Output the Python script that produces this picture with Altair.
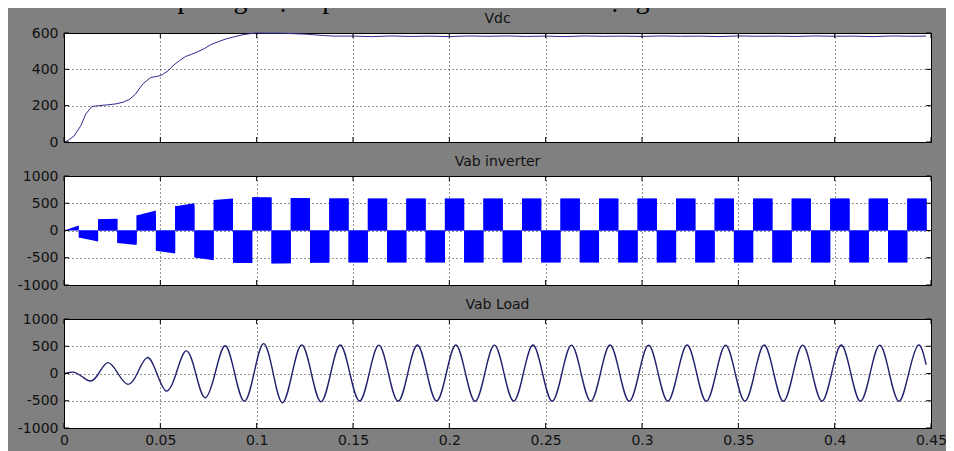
import altair as alt
import pandas as pd

# ---------------- data ----------------
caption = "ến hình 6 : mô phỏng điện áp đầu ra của biến tần có dạng hình sin"
titles = ["Vdc", "Vab inverter", "Vab Load"]

x_ticks = [0, 0.05, 0.1, 0.15, 0.2, 0.25, 0.3, 0.35, 0.4, 0.45]
vdc_ticks = [0, 200, 400, 600]
ac_ticks = [-1000, -500, 0, 500, 1000]

vdc_t = [0, 0.002, 0.0052, 0.0087, 0.0113, 0.0144, 0.018, 0.022, 0.027, 0.031,
         0.034, 0.037, 0.041, 0.045, 0.0485, 0.051, 0.054, 0.057, 0.06, 0.063,
         0.066, 0.069, 0.073, 0.076, 0.08, 0.084, 0.088, 0.093, 0.097, 0.1,
         0.105, 0.11, 0.115, 0.12, 0.125, 0.13, 0.135, 0.14, 0.15, 0.16,
         0.17, 0.18, 0.19, 0.2, 0.21, 0.22, 0.23, 0.24, 0.25, 0.26,
         0.27, 0.28, 0.29, 0.3, 0.31, 0.32, 0.33, 0.34, 0.35, 0.36,
         0.37, 0.38, 0.39, 0.4, 0.41, 0.42, 0.43, 0.44, 0.4475]
vdc_v = [0, 8, 33, 89, 154, 195, 200, 204, 210, 220,
         235, 262, 321, 355, 362, 370, 392, 424, 448, 470,
         482, 495, 515, 535, 552, 567, 578, 591, 597, 600,
         599, 599, 598, 596, 594, 590, 586, 583, 583, 580,
         584, 581, 583, 580, 584, 582, 584, 581, 583, 580,
         584, 582, 583, 581, 584, 582, 583, 580, 584, 582,
         583, 581, 584, 582, 583, 580, 584, 582, 583]

inv_edges = [0, 0.0077, 0.0177, 0.0277, 0.0377, 0.0477, 0.0577, 0.0677, 0.0777, 0.0877,
             0.0977, 0.1077, 0.1177, 0.1277, 0.1377, 0.1477, 0.1577, 0.1677, 0.1777, 0.1877,
             0.1977, 0.2077, 0.2177, 0.2277, 0.2377, 0.2477, 0.2577, 0.2677, 0.2777, 0.2877,
             0.2977, 0.3077, 0.3177, 0.3277, 0.3377, 0.3477, 0.3577, 0.3677, 0.3777, 0.3877,
             0.3977, 0.4077, 0.4177, 0.4277, 0.4377, 0.4477]
inv_start = [0, -130, 205, -230, 275, -370, 445, -495, 560, -590,
             610, -605, 598, -590, 588, -585, 585, -585, 585, -585,
             585, -585, 585, -585, 585, -585, 585, -585, 585, -585,
             585, -585, 585, -585, 585, -585, 585, -585, 585, -585,
             585, -585, 585, -585, 585]
inv_end = [90, -200, 215, -265, 365, -420, 500, -545, 585, -595,
           605, -600, 592, -588, 586, -585, 585, -585, 585, -585,
           585, -585, 585, -585, 585, -585, 585, -585, 585, -585,
           585, -585, 585, -585, 585, -585, 585, -585, 585, -585,
           585, -585, 585, -585, 585]

load_t = [0, 0.003, 0.0055, 0.0095, 0.0138, 0.018, 0.0228, 0.028, 0.0332, 0.038,
          0.0432, 0.0482, 0.0532, 0.0582, 0.0634, 0.0684, 0.0732, 0.0784, 0.0836, 0.0886,
          0.0936, 0.0986, 0.1036, 0.1086, 0.1134, 0.1184, 0.1234, 0.1284, 0.1334, 0.1384,
          0.1434, 0.1484, 0.1534, 0.1584, 0.1634, 0.1684, 0.1734, 0.1784, 0.1834, 0.1884,
          0.1934, 0.1984, 0.2034, 0.2084, 0.2134, 0.2184, 0.2234, 0.2284, 0.2334, 0.2384,
          0.2434, 0.2484, 0.2534, 0.2584, 0.2634, 0.2684, 0.2734, 0.2784, 0.2834, 0.2884,
          0.2934, 0.2984, 0.3034, 0.3084, 0.3134, 0.3184, 0.3234, 0.3284, 0.3334, 0.3384,
          0.3434, 0.3484, 0.3534, 0.3584, 0.3634, 0.3684, 0.3734, 0.3784, 0.3834, 0.3884,
          0.3934, 0.3984, 0.4034, 0.4084, 0.4134, 0.4184, 0.4234, 0.4284, 0.4334, 0.4384,
          0.4434, 0.4475]
load_v = [0, 20, 20, -60, -138, 0, 200, 0, -200, 0,
          292, 0, -323, 0, 415, 0, -446, 0, 508, 0,
          -508, 0, 548, 0, -538, 0, 526, 0, -520, 0,
          524, 0, -505, 0, 520, 0, -510, 0, 522, 0,
          -505, 0, 522, 0, -510, 0, 520, 0, -508, 0,
          522, 0, -510, 0, 520, 0, -508, 0, 522, 0,
          -510, 0, 520, 0, -508, 0, 522, 0, -510, 0,
          520, 0, -508, 0, 522, 0, -510, 0, 520, 0,
          -508, 0, 522, 0, -510, 0, 520, 0, -508, 0,
          522, 160]

# ---------------- tables ----------------
vdc_df = pd.DataFrame({"t": vdc_t, "v": vdc_v})
load_df = pd.DataFrame({"t": load_t, "v": load_v})

# one polygon per inverter block (sloped tops), drawn as an area per block
poly_rows = []
for k in range(len(inv_start)):
    poly_rows.append({"t": inv_edges[k], "v": inv_start[k], "z": 0, "blk": k})
    poly_rows.append({"t": inv_edges[k + 1], "v": inv_end[k], "z": 0, "blk": k})
inv_poly = pd.DataFrame(poly_rows)

# the same blocks as rectangles up to the smaller end value
blk_df = pd.DataFrame({
    "t": inv_edges[:-1],
    "t2": inv_edges[1:],
    "v": [a if abs(a) < abs(b) else b for a, b in zip(inv_start, inv_end)],
    "z": [0] * len(inv_start),
})

# ---------------- chart ----------------
W, H = 867, 109
XS = alt.Scale(domain=[0, 0.45], nice=False, zero=False)
LBL = "'' + datum.value"


def x_enc(show):
    return alt.X("t:Q", scale=XS,
                 axis=alt.Axis(values=x_ticks, labels=show, labelExpr=LBL, title=None,
                               grid=True, ticks=False, domain=False, labelFlush=False,
                               labelOverlap=False, labelPadding=5))


def y_scale(dom):
    return alt.Scale(domain=dom, nice=False, zero=False)


def y_enc(ticks, dom):
    return alt.Y("v:Q", scale=y_scale(dom),
                 axis=alt.Axis(values=ticks, labelExpr=LBL, title=None, grid=True,
                               ticks=False, domain=False, labelFlush=False,
                               labelOverlap=False, labelPadding=6))


def tick_layers(yticks, dom, show):
    xt = pd.DataFrame({"t": x_ticks})
    yt = pd.DataFrame({"v": yticks})
    xs = x_enc(show)
    ys = y_enc(yticks, dom)
    top = alt.Chart(xt).mark_rule(color="black").encode(x=xs, y=alt.value(0), y2=alt.value(5))
    bot = alt.Chart(xt).mark_rule(color="black").encode(x=xs, y=alt.value(H), y2=alt.value(H - 5))
    left = alt.Chart(yt).mark_rule(color="black").encode(y=ys, x=alt.value(0), x2=alt.value(5))
    right = alt.Chart(yt).mark_rule(color="black").encode(y=ys, x=alt.value(W - 5), x2=alt.value(W))
    return [top, bot, left, right]


def ptitle(text):
    return alt.TitleParams(text=text, offset=-6, dy=5, baseline="alphabetic", anchor="middle",
                           font="DejaVu Sans", fontSize=14, fontWeight="normal", color="#111111")


AC = [-1000, 1000]

p1_main = alt.Chart(vdc_df).mark_line(color="#2b2b8f", strokeWidth=1).encode(
    x=x_enc(False), y=y_enc(vdc_ticks, [0, 600]))
p1 = alt.layer(p1_main, *tick_layers(vdc_ticks, [0, 600], False)).properties(
    width=W, height=H, title=ptitle(titles[0]))

p2_rect = alt.Chart(blk_df).mark_rect(color="#0000ff").encode(
    x=x_enc(False), x2="t2:Q", y=y_enc(ac_ticks, AC), y2="z:Q")
p2_area = alt.Chart(inv_poly).mark_area(color="#0000ff").encode(
    x=x_enc(False), y=y_enc(ac_ticks, AC), y2="z:Q", detail="blk:N")
p2 = alt.layer(p2_rect, p2_area, *tick_layers(ac_ticks, AC, False)).properties(
    width=W, height=H, title=ptitle(titles[1]))

p3_main = alt.Chart(load_df).mark_line(color="#20206e", strokeWidth=1.4, interpolate="natural").encode(
    x=x_enc(True), y=y_enc(ac_ticks, AC))
p3 = alt.layer(p3_main, *tick_layers(ac_ticks, AC, True)).properties(
    width=W, height=H, title=ptitle(titles[2]))

chart = alt.vconcat(p1, p2, p3, spacing=4).properties(
    title=alt.TitleParams(text=caption, anchor="start", font="Liberation Serif", fontSize=28,
                          fontWeight="normal", color="black", baseline="alphabetic",
                          offset=-24, dx=-8),
    padding={"left": 0, "top": -23, "right": -2, "bottom": 4},
).configure(background="#808080").configure_view(
    fill="white", stroke="black", strokeWidth=1
).configure_axis(
    gridColor="black", gridDash=[1, 3], gridOpacity=0.85, gridWidth=1,
    labelFont="DejaVu Sans", labelFontSize=14, labelColor="#111111"
)

chart.save("out.html", embed_options={"renderer": "svg", "actions": False})
